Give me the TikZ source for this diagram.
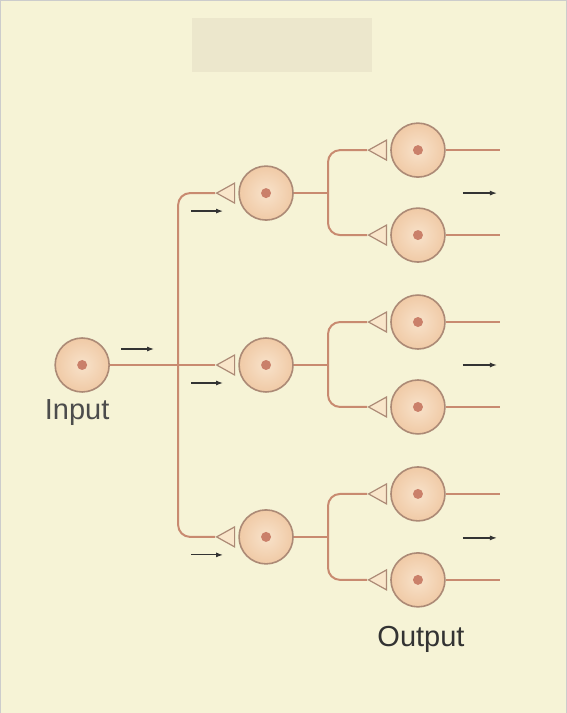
\documentclass[tikz,border=0pt]{standalone}
\usepackage{fontspec}
\setmainfont{Liberation Sans}
\usetikzlibrary{arrows.meta,positioning,shapes.geometric}
\definecolor{paper}{RGB}{246,243,214}
\definecolor{veil}{RGB}{236,231,204}
\definecolor{axon}{RGB}{200,138,112}
\definecolor{rim}{RGB}{172,138,118}
\definecolor{cellin}{RGB}{248,226,202}
\definecolor{cellout}{RGB}{240,202,166}
\definecolor{nucleus}{RGB}{202,128,106}
\definecolor{synfill}{RGB}{249,230,202}
\begin{document}
\begin{tikzpicture}[x=1pt, y=-1pt, >={Latex[length=7pt,width=5pt]},
  neuron/.style={circle, draw=rim, line width=1.6pt, inner color=cellin, outer color=cellout, minimum size=54pt, inner sep=0pt,
    path picture={\fill[nucleus] (path picture bounding box.center) circle (5pt);}},
  syn/.style={isosceles triangle, shape border rotate=180, isosceles triangle stretches, minimum width=20pt, minimum height=18pt, inner sep=0pt, draw=rim, fill=synfill, line width=1.2pt, anchor=apex},
  axn/.style={draw=axon, line width=2pt, rounded corners=12pt},
  flow/.style={->, line width=1.2pt, black!80},
  lbl/.style={font=\fontsize{29}{31}\selectfont}]
\fill[paper, draw=black!20] (0,0) rectangle (566,713);
\fill[veil] (192,18) rectangle (372,72);
\node[neuron] (in) at (82,365) {};
\node[neuron] (m1) at (266,193) {};
\node[neuron] (m2) at (266,365) {};
\node[neuron] (m3) at (266,537) {};
\node[syn] (s1) at (215,193) {};
\node[syn] (s2) at (215,365) {};
\node[syn] (s3) at (215,537) {};
\foreach \i/\y in {1/150,2/235,3/322,4/407,5/494,6/580}{
  \node[neuron] (o\i) at (418,\y) {};
  \node[syn] (t\i) at (367,\y) {};
  \coordinate (e\i) at (500,\y);
  \draw[axn] (o\i.east) -- (e\i);
}
\coordinate (b1) at (178,365);
\coordinate (c1) at (328,193); \coordinate (c2) at (328,365); \coordinate (c3) at (328,537);
\draw[axn] (in.east) -- (s2.apex);
\draw[axn] (s1.apex) -| (b1) |- (s3.apex);
\draw[axn] (m1.east) -- (c1); \draw[axn] (t1.apex) -| (c1) |- (t2.apex);
\draw[axn] (m2.east) -- (c2); \draw[axn] (t3.apex) -| (c2) |- (t4.apex);
\draw[axn] (m3.east) -- (c3); \draw[axn] (t5.apex) -| (c3) |- (t6.apex);
\draw[flow] (121,349) -- (154,349);
\draw[flow] (191,211) -- (223,211); \draw[flow] (191,383) -- (223,383); \draw[flow] (191,555) -- (223,555);
\draw[flow] (463,193) -- (497,193); \draw[flow] (463,365) -- (497,365); \draw[flow] (463,538) -- (497,538);
\node[lbl, text=black!70, anchor=base] (inlbl) at (77,420) {Input};
\node[lbl, text=black!80, anchor=base] (outlbl) at (421,647) {Output};
\end{tikzpicture}
\end{document}
